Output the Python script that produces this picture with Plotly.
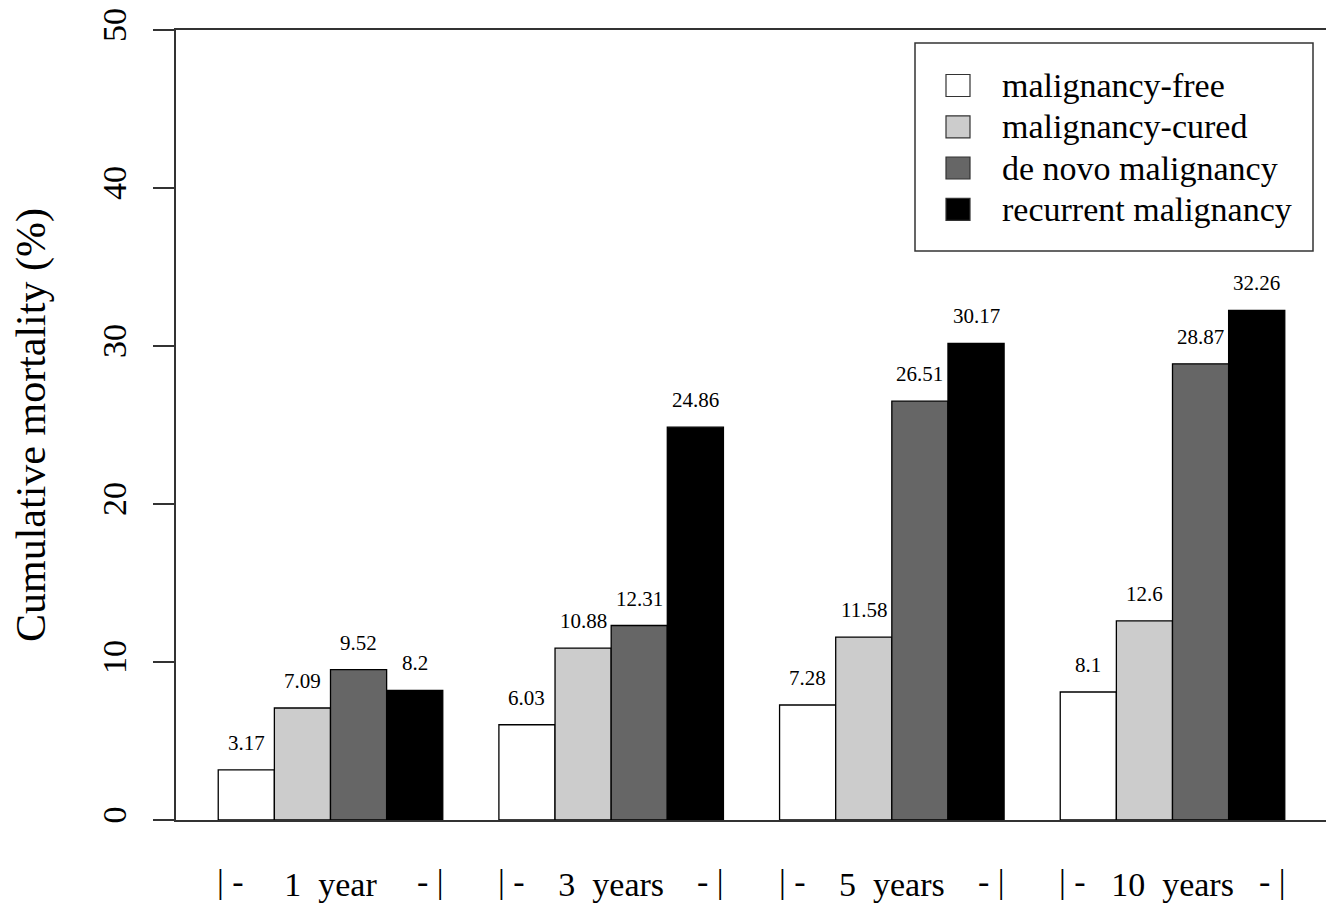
import plotly.graph_objects as go

# ---- data ----
periods = ["1  year", "3  years", "5  years", "10  years"]
series_names = ["malignancy-free", "malignancy-cured", "de novo malignancy", "recurrent malignancy"]
malignancy_free = [3.17, 6.03, 7.28, 8.1]
malignancy_cured = [7.09, 10.88, 11.58, 12.6]
de_novo = [9.52, 12.31, 26.51, 28.87]
recurrent = [8.2, 24.86, 30.17, 32.26]
y_ticks = [0, 10, 20, 30, 40, 50]

series_values = [malignancy_free, malignancy_cured, de_novo, recurrent]
fills = ["#ffffff", "#cccccc", "#666666", "#000000"]

FONT = "Liberation Serif"
# body margin removed by post_script, so figure coords = page coords
W, H = 1326, 903
L, T, R = 176, 30, 0
B = H - 820
PW, PH = W - L - R, H - T - B

def px_x(px):  # page pixel -> paper x
    return (px - L) / PW

def px_y(py):  # page pixel -> paper y
    return (H - B - py) / PH

xpos = list(range(len(periods)))
n_series = len(series_values)
group_width = 0.8

fig = go.Figure()
for name, vals, col in zip(series_names, series_values, fills):
    fig.add_trace(go.Bar(
        x=xpos, y=vals, name=name,
        marker=dict(color=col, line=dict(color="#000000", width=1.3)),
        showlegend=False,
    ))

annotations = []
# value labels above bars
bw = group_width / n_series
for i, vals in enumerate(series_values):
    for g, v in enumerate(vals):
        annotations.append(dict(
            x=g + (i - (n_series - 1) / 2) * bw, y=v, xref="x", yref="y",
            text=f"{v:g}", showarrow=False, yshift=27, yanchor="middle",
            font=dict(family=FONT, size=21, color="black"),
        ))

LABEL_STANDOFF = 33
# bracket markers on group edges
for g in xpos:
    annotations.append(dict(x=g - group_width / 2, y=0, xref="x", yref="paper",
                            text="|\u00a0-", showarrow=False, xanchor="left", yanchor="top",
                            xshift=-3, yshift=-(LABEL_STANDOFF + 8),
                            font=dict(family=FONT, size=34, color="black")))
    annotations.append(dict(x=g + group_width / 2, y=0, xref="x", yref="paper",
                            text="-\u00a0|", showarrow=False, xanchor="right", yanchor="top",
                            xshift=3, yshift=-(LABEL_STANDOFF + 8),
                            font=dict(family=FONT, size=34, color="black")))

# y title
annotations.append(dict(x=px_x(31), y=0.5, xref="paper", yref="paper",
                        text="Cumulative mortality (%)", textangle=-90, showarrow=False,
                        xanchor="center", yanchor="middle",
                        font=dict(family=FONT, size=42, color="black")))

# manual legend
shapes = []
shapes.append(dict(type="rect", xref="paper", yref="paper",
                   x0=px_x(915), x1=px_x(1313), y0=px_y(251), y1=px_y(43),
                   line=dict(color="#333333", width=1.5), fillcolor="rgba(0,0,0,0)"))
leg_y = [85.5, 126.8, 168, 209.3]
for name, col, cy in zip(series_names, fills, leg_y):
    shapes.append(dict(type="rect", xref="paper", yref="paper",
                       x0=px_x(946), x1=px_x(970), y0=px_y(cy + 11), y1=px_y(cy - 11),
                       line=dict(color="#333333", width=1.2), fillcolor=col))
    annotations.append(dict(x=px_x(1000), y=px_y(cy), xref="paper", yref="paper",
                            text=name, showarrow=False, xanchor="left", yanchor="middle",
                            font=dict(family=FONT, size=34, color="black")))

unit = 280.67  # pixels per group
x_lo = -(330.5 - 176) / unit
x_hi = 3 + (1326 - 1172.5) / unit

fig.update_layout(
    width=W, height=H,
    margin=dict(l=L, r=R, t=T, b=B, pad=0, autoexpand=False),
    paper_bgcolor="white", plot_bgcolor="white",
    barmode="group", bargap=0.2, bargroupgap=0,
    font=dict(family=FONT, color="black"),
    annotations=annotations, shapes=shapes,
    xaxis=dict(
        range=[x_lo, x_hi], tickmode="array", tickvals=xpos, ticktext=periods,
        ticks="", showgrid=False, zeroline=False, automargin=False,
        showline=True, mirror=True, linecolor="#333333", linewidth=1.5,
        tickfont=dict(family=FONT, size=34, color="black"),
        ticklabelstandoff=LABEL_STANDOFF,
    ),
    yaxis=dict(
        range=[0, 50], tickmode="array", tickvals=y_ticks, automargin=False,
        ticks="outside", ticklen=21, tickwidth=1.5, tickcolor="#333333",
        showline=True, linecolor="#333333", linewidth=1.5,
        showgrid=False, zeroline=False, tickangle=-90,
        tickfont=dict(family=FONT, size=34, color="black"),
        ticklabelstandoff=14, ticklabeloverflow="allow",
    ),
)

fig.write_html(
    "out.html",
    config={"displayModeBar": False},
    post_script="document.body.style.margin='0px';document.body.style.overflow='hidden';",
)
